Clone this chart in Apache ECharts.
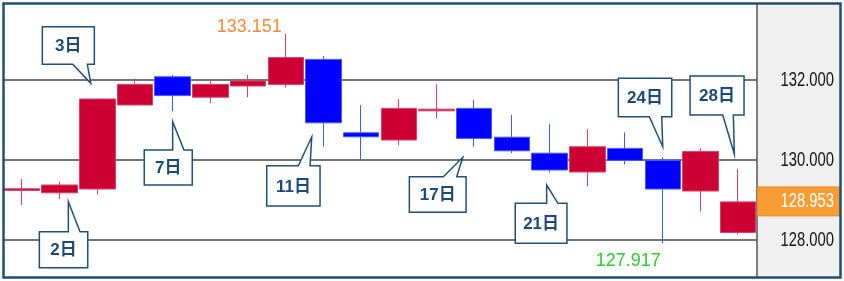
<!DOCTYPE html>
<html><head><meta charset="utf-8">
<script src="https://cdn.jsdelivr.net/npm/echarts@6/dist/echarts.min.js"></script>
<style>html,body{margin:0;padding:0;background:#fff}#c{width:844px;height:281px}</style>
</head><body><div id="c"></div>
<script>
// ---- data ----
const days   = ['1日','2日','3日','4日','7日','8日','9日','10日','11日','14日','15日','16日','17日','18日','21日','22日','23日','24日','25日','28日'];
const opens  = [129.24, 129.18, 129.275, 131.375, 132.08, 131.57, 131.85, 131.89, 132.515, 130.68, 130.50, 131.23, 131.29, 130.57, 130.17, 129.70, 130.29, 129.99, 129.225, 128.19];
const closes = [129.28, 129.375, 131.525, 131.89, 131.61, 131.89, 131.975, 132.56, 130.93, 130.58, 131.29, 131.27, 130.54, 130.23, 129.75, 130.33, 129.99, 129.275, 130.21, 128.953];
const lows   = [128.875, 129.02, 129.14, 131.37, 131.22, 131.42, 131.57, 131.81, 130.33, 130.00, 130.375, 131.04, 130.33, 130.17, 129.69, 129.35, 129.89, 127.917, 128.71, 128.14];
const highs  = [129.525, 129.46, 131.53, 132.04, 132.125, 132.00, 132.12, 133.151, 132.60, 131.37, 131.525, 131.89, 131.50, 131.13, 130.90, 130.77, 130.69, 130.07, 130.29, 129.77];
const yTicks = [128, 130, 132];
const lastPrice = 128.953;
const highMark = 133.151;
const lowMark = 127.917;
const calloutDays = ['2日','3日','7日','11日','17日','21日','24日','28日'];

// ---- layout (pixels, relative to the anchored candle point) ----
const calloutLayout = [
  {anchor:'L', dx:8.8,  dy:2.5,   box:[-29,30,48.4,36],     base:[0,11.7]},
  {anchor:'H', dx:-6.5, dy:-15.5, box:[-48.4,-56.6,52,37.6], base:[-18,-3.4]},
  {anchor:'L', dx:0,    dy:10.5,  box:[-28.4,28.3,48,35],    base:[0,11.3]},
  {anchor:'L', dx:-11.7,dy:-10,   box:[-45,29,53.3,40.3],    base:[-13.4,-1.7]},
  {anchor:'L', dx:-11.5,dy:10.5,  box:[-53.4,19.4,56.7,35.6],base:[-19.4,-6]},
  {anchor:'L', dx:-3,   dy:12.6,  box:[-31.4,18.3,51.7,40],  base:[0,11.3]},
  {anchor:'H', dx:0,    dy:-10.5, box:[-44.4,-68.4,53.4,38.4],base:[-13.4,-1]},
  {anchor:'H', dx:-3.8, dy:-15.2, box:[-44.3,-78,54,39],     base:[-11.6,-1]}
];

const sans = '"Liberation Sans",Arial,sans-serif';
const chart = echarts.init(document.getElementById('c'), null, {renderer:'canvas'});
const candleData = days.map((d,i)=>[opens[i], closes[i], lows[i], highs[i]]);

chart.setOption({
  animation:false,
  backgroundColor:'#fff',
  grid:{left:3, right:87, top:0, bottom:-39, outerBoundsMode:'none', containLabel:false},
  xAxis:{type:'category', data:days, boundaryGap:true, show:false},
  yAxis:{type:'value', position:'right', min:126, max:134, interval:2,
    axisLine:{show:false}, axisTick:{show:false},
    splitLine:{show:true, lineStyle:{color:'#747474', width:2}},
    axisLabel:{show:false}
  },
  series:[{
    type:'candlestick', data:candleData, barWidth:36,
    itemStyle:{color:'#cc0033', borderColor:'#dc3c64', color0:'#0000ff', borderColor0:'#3d5cff', borderWidth:1}
  }]
});

function px(i, v){ return chart.convertToPixel({seriesIndex:0}, [i, v]); }

const g = [];
g.push({type:'rect', shape:{x:757, y:4, width:83, height:273}, style:{fill:'#f0f0f0'}, z:-10});
g.push({type:'line', shape:{x1:757, y1:4, x2:757, y2:277}, style:{stroke:'#555', lineWidth:1.5}, z:5});
yTicks.forEach(t=>{
  const p = px(0, t);
  g.push({type:'text', x:834, y:p[1], scaleX:0.74, style:{text:t.toFixed(3), fill:'#151515', fontSize:20, fontFamily:sans, align:'right', verticalAlign:'middle'}, z:7});
});
const lp = px(days.length-1, lastPrice);
g.push({type:'rect', shape:{x:757.5, y:lp[1]-15, width:82.5, height:29}, style:{fill:'#f89c34', stroke:'#ee8a1e', lineWidth:1}, z:6});
g.push({type:'text', x:834, y:lp[1], scaleX:0.74, style:{text:lastPrice.toFixed(3), fill:'#fff', fontSize:20, fontFamily:sans, align:'right', verticalAlign:'middle'}, z:7});

const hi = highs.indexOf(highMark);
const hp = px(hi, highMark);
g.push({type:'text', x:hp[0]-4, y:hp[1]+2, style:{text:highMark.toFixed(3), fill:'#f7883a', fontSize:18, fontFamily:sans, align:'right', verticalAlign:'bottom'}, z:7});
const li = lows.indexOf(lowMark);
const lpp = px(li, lowMark);
g.push({type:'text', x:lpp[0]-2, y:lpp[1]+9, style:{text:lowMark.toFixed(3), fill:'#2ecc2e', fontSize:18, fontFamily:sans, align:'right', verticalAlign:'top'}, z:7});

calloutDays.forEach((d,k)=>{
  const i = days.indexOf(d);
  const L = calloutLayout[k];
  const p = px(i, L.anchor==='H' ? highs[i] : lows[i]);
  const tx = p[0]+L.dx, ty = p[1]+L.dy;
  const bx = tx+L.box[0], by = ty+L.box[1], bw = L.box[2], bh = L.box[3];
  let pts;
  if (by > ty) {
    pts = [[bx,by],[tx+L.base[0],by],[tx,ty],[tx+L.base[1],by],[bx+bw,by],[bx+bw,by+bh],[bx,by+bh]];
  } else {
    pts = [[bx,by],[bx+bw,by],[bx+bw,by+bh],[tx+L.base[1],by+bh],[tx,ty],[tx+L.base[0],by+bh],[bx,by+bh]];
  }
  g.push({type:'polygon', shape:{points:pts}, style:{fill:'#fff', stroke:'#1f5078', lineWidth:1.5}, z:20});
  g.push({type:'text', x:bx+bw/2, y:by+bh/2+1, style:{text:d, fill:'#1c4a78', fontSize:17, fontWeight:'bold', fontFamily:'"Liberation Sans","Noto Sans CJK JP",sans-serif', align:'center', verticalAlign:'middle'}, z:21});
});

g.push({type:'rect', shape:{x:0, y:0, width:844, height:3}, style:{fill:'#fff'}, z:30});
g.push({type:'rect', shape:{x:3.5, y:3.5, width:837, height:274}, style:{fill:'none', stroke:'#1f4e79', lineWidth:2.5}, z:31});

chart.setOption({graphic:{elements:g}});
</script></body></html>
